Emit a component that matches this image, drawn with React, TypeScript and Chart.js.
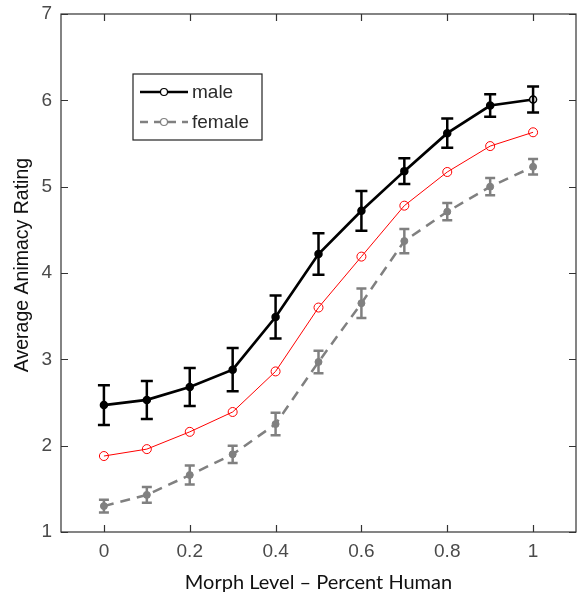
import React, { useEffect, useRef } from "react";
import { Chart, registerables } from "chart.js";

Chart.register(...registerables);

const morphLevels = [0, 0.1, 0.2, 0.3, 0.4, 0.5, 0.6, 0.7, 0.8, 0.9, 1.0];
const maleMeans = [2.47, 2.53, 2.68, 2.88, 3.49, 4.22, 4.72, 5.18, 5.62, 5.94, 6.01];
const maleErrors = [0.23, 0.22, 0.22, 0.25, 0.25, 0.24, 0.23, 0.15, 0.17, 0.13, 0.15];
const redMeans = [1.88, 1.96, 2.16, 2.39, 2.86, 3.6, 4.19, 4.78, 5.17, 5.47, 5.63];
const femaleMeans = [1.3, 1.43, 1.66, 1.9, 2.25, 2.97, 3.65, 4.37, 4.71, 5.0, 5.23];
const femaleErrors = [0.075, 0.09, 0.11, 0.1, 0.13, 0.13, 0.17, 0.14, 0.1, 0.1, 0.09];
const xTicks = [0, 0.2, 0.4, 0.6, 0.8, 1];
const yTicks = [1, 2, 3, 4, 5, 6, 7];
const legendLabels = ["male", "female"];
const xTitle = "Morph Level \u2013 Percent Human";
const yTitle = "Average Animacy Rating";

const GRAY = "#808080";
const AXIS = "#333333";

const errorBarPlugin = {
  id: "errorBars",
  afterDatasetsDraw(chart: any) {
    const ctx = chart.ctx;
    const xs = chart.scales.x;
    const ys = chart.scales.y;
    chart.data.datasets.forEach((ds: any) => {
      if (!ds.errors) return;
      ctx.save();
      ctx.strokeStyle = ds.borderColor;
      ctx.lineWidth = ds.errorWidth;
      ctx.setLineDash([]);
      ds.data.forEach((p: any, i: number) => {
        const e = ds.errors[i];
        const px = xs.getPixelForValue(p.x);
        const y1 = ys.getPixelForValue(p.y + e);
        const y2 = ys.getPixelForValue(p.y - e);
        const c = ds.capWidth / 2;
        ctx.beginPath();
        ctx.moveTo(px, y1);
        ctx.lineTo(px, y2);
        ctx.moveTo(px - c, y1);
        ctx.lineTo(px + c, y1);
        ctx.moveTo(px - c, y2);
        ctx.lineTo(px + c, y2);
        ctx.stroke();
      });
      ctx.restore();
    });
  },
};

const boxPlugin = {
  id: "matlabBox",
  afterDraw(chart: any) {
    const ctx = chart.ctx;
    const a = chart.chartArea;
    const xs = chart.scales.x;
    const ys = chart.scales.y;
    const tl = 7;
    ctx.save();
    ctx.strokeStyle = AXIS;
    ctx.lineWidth = 1.2;
    ctx.strokeRect(a.left, a.top, a.right - a.left, a.bottom - a.top);
    ctx.beginPath();
    xTicks.forEach((v) => {
      const px = Math.round(xs.getPixelForValue(v)) + 0.5;
      ctx.moveTo(px, a.bottom);
      ctx.lineTo(px, a.bottom - tl);
      ctx.moveTo(px, a.top);
      ctx.lineTo(px, a.top + tl);
    });
    yTicks.forEach((v) => {
      const py = Math.round(ys.getPixelForValue(v)) + 0.5;
      ctx.moveTo(a.left, py);
      ctx.lineTo(a.left + tl, py);
      ctx.moveTo(a.right, py);
      ctx.lineTo(a.right - tl, py);
    });
    ctx.stroke();

    // y-axis title
    ctx.save();
    ctx.translate(23, 265);
    ctx.rotate(-Math.PI / 2);
    ctx.fillStyle = "#111111";
    ctx.font = "19.5px 'Liberation Sans', Arial, sans-serif";
    ctx.textAlign = "center";
    ctx.textBaseline = "middle";
    ctx.fillText(yTitle, 0, 0);
    ctx.restore();

    // legend
    const bx = 133, by = 74, bw = 129, bh = 66;
    ctx.fillStyle = "#ffffff";
    ctx.fillRect(bx, by, bw, bh);
    ctx.strokeStyle = "#222222";
    ctx.lineWidth = 1.2;
    ctx.strokeRect(bx, by, bw, bh);
    const rows = [
      { label: legendLabels[0], color: "#000000", dash: [] as number[], y: 92 },
      { label: legendLabels[1], color: GRAY, dash: [8, 6], y: 122 },
    ];
    rows.forEach((r) => {
      ctx.strokeStyle = r.color;
      ctx.lineWidth = 2.5;
      ctx.setLineDash(r.dash);
      ctx.beginPath();
      ctx.moveTo(140, r.y);
      ctx.lineTo(188, r.y);
      ctx.stroke();
      ctx.setLineDash([]);
      ctx.lineWidth = 1.2;
      ctx.fillStyle = "#ffffff";
      ctx.beginPath();
      ctx.arc(164, r.y, 3.5, 0, Math.PI * 2);
      ctx.fill();
      ctx.stroke();
      ctx.fillStyle = "#2a2a2a";
      ctx.font = "19px 'Liberation Sans', Arial, sans-serif";
      ctx.textAlign = "left";
      ctx.textBaseline = "middle";
      ctx.fillText(r.label, 192, r.y + 1);
    });
    ctx.restore();
  },
};

export default function App() {
  const ref = useRef<HTMLCanvasElement | null>(null);
  useEffect(() => {
    if (!ref.current) return;
    const toXY = (arr: number[]) => arr.map((y, i) => ({ x: morphLevels[i], y }));
    const tickFont = { family: "'Liberation Sans', Arial, sans-serif", size: 19 };
    const maleFill = morphLevels.map((_, i) => (i === morphLevels.length - 1 ? "#ffffff" : "#000000"));
    const chart = new Chart(ref.current, {
      type: "line",
      data: {
        datasets: [
          {
            label: legendLabels[1],
            data: toXY(femaleMeans),
            borderColor: GRAY,
            backgroundColor: GRAY,
            borderWidth: 2.5,
            borderDash: [10, 7],
            pointRadius: 3.5,
            pointBorderWidth: 1,
            pointBackgroundColor: GRAY,
            pointBorderColor: GRAY,
            tension: 0,
            errors: femaleErrors,
            errorWidth: 2.5,
            capWidth: 10,
          } as any,
          {
            label: "mean",
            data: toXY(redMeans),
            borderColor: "#ff0000",
            backgroundColor: "#ffffff",
            borderWidth: 1,
            pointRadius: 4.5,
            pointBorderWidth: 1,
            pointBackgroundColor: "rgba(255,255,255,0)",
            pointBorderColor: "#ff0000",
            tension: 0,
          },
          {
            label: legendLabels[0],
            data: toXY(maleMeans),
            borderColor: "#000000",
            backgroundColor: "#000000",
            borderWidth: 2.7,
            pointRadius: 3.5,
            pointBorderWidth: 1.5,
            pointBackgroundColor: maleFill,
            pointBorderColor: "#000000",
            tension: 0,
            errors: maleErrors,
            errorWidth: 2.5,
            capWidth: 12,
          } as any,
        ],
      },
      options: {
        animation: false,
        responsive: false,
        maintainAspectRatio: false,
        layout: { padding: { top: 14, right: 9, left: 0, bottom: 0 } },
        plugins: {
          legend: { display: false },
          tooltip: { enabled: false },
        },
        scales: {
          x: {
            type: "linear",
            min: -0.1,
            max: 1.1,
            afterBuildTicks: (s: any) => {
              s.ticks = xTicks.map((v) => ({ value: v }));
            },
            afterFit: (s: any) => {
              s.height = 69;
              s.paddingLeft = 0;
              s.paddingRight = 0;
            },
            grid: { display: false, drawTicks: false },
            border: { display: false },
            ticks: {
              font: tickFont,
              color: "#4a4a4a",
              padding: 8,
              maxRotation: 0,
              callback: (v: any) => String(Math.round(Number(v) * 10) / 10),
            },
            title: {
              display: true,
              text: xTitle,
              font: { family: "Lato, 'Open Sans', sans-serif", size: 20 },
              color: "#111111",
              padding: { top: 0, bottom: 6 },
            },
          },
          y: {
            type: "linear",
            min: 1,
            max: 7,
            afterBuildTicks: (s: any) => {
              s.ticks = yTicks.map((v) => ({ value: v }));
            },
            afterFit: (s: any) => {
              s.width = 61;
              s.paddingTop = 0;
              s.paddingBottom = 0;
            },
            grid: { display: false, drawTicks: false },
            border: { display: false },
            ticks: {
              font: tickFont,
              color: "#4a4a4a",
              padding: 9,
              callback: (v: any) => String(v),
            },
            title: { display: false },
          },
        },
      },
      plugins: [errorBarPlugin, boxPlugin],
    });
    return () => chart.destroy();
  }, []);
  return (
    <div style={{ position: "fixed", left: 0, top: 0, width: 585, height: 601, background: "#fff" }}>
      <canvas ref={ref} width={585} height={601} />
    </div>
  );
}
